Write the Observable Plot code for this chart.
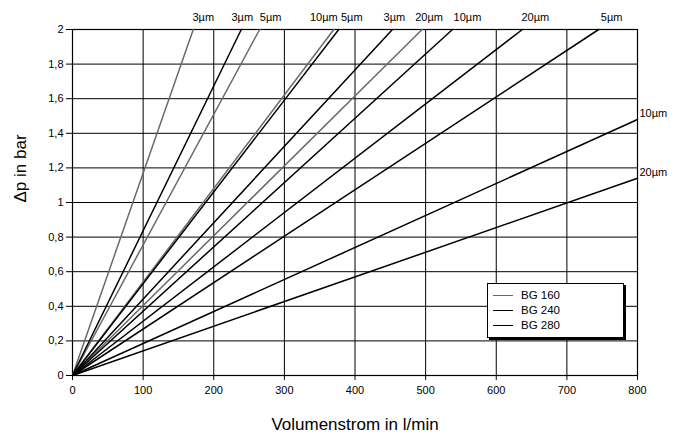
<!DOCTYPE html>
<html>
<head>
<meta charset="utf-8">
<script src="https://cdn.jsdelivr.net/npm/d3@7"></script>
<script src="https://cdn.jsdelivr.net/npm/@observablehq/plot@0.6"></script>
<style>
  html, body { margin: 0; padding: 0; background: #fff; }
  #wrap { position: relative; width: 674px; height: 434px; font-family: "Liberation Sans", Arial, Helvetica, sans-serif; }
  #legend { position: absolute; left: 487px; top: 283px; width: 135px; height: 53px; border: 1px solid #000; background: #fff; box-shadow: 2px 2px 0 #000; font-size: 11.5px; color: #000; }
  #legend .row { position: absolute; left: 5px; height: 14px; display: flex; align-items: center; }
  #legend .sw { width: 20px; height: 0; border-top: 1.6px solid #000; margin-right: 8px; }
</style>
</head>
<body>
<div id="wrap"></div>
<script>
// Filter grades (one line per filter fineness, per filter size)
const filters = ["3µm", "5µm", "10µm", "20µm"];
const groups = ["BG 160", "BG 240", "BG 280"];
// End point of each line (all lines start at 0 l/min, 0 bar)
const bg160Flow = [171, 265, 370, 495];
const bg160Dp   = [2, 2, 2, 2];
const bg240Flow = [239, 377, 538, 637];
const bg240Dp   = [2, 2, 2, 2];
const bg280Flow = [453, 745, 800, 800];
const bg280Dp   = [2, 2, 1.48, 1.14];
const xTicks = [0, 100, 200, 300, 400, 500, 600, 700, 800];
const yTicks = [0, 0.2, 0.4, 0.6, 0.8, 1, 1.2, 1.4, 1.6, 1.8, 2];

const groupColor = {"BG 160": "#6a6a6a", "BG 240": "#000", "BG 280": "#000"};
const ends = [];
[[bg160Flow, bg160Dp], [bg240Flow, bg240Dp], [bg280Flow, bg280Dp]].forEach(([f, p], gi) => {
  filters.forEach((name, i) => ends.push({group: groups[gi], filter: name, flow: f[i], dp: p[i]}));
});
const lineRows = ends.flatMap(e => [
  {key: e.group + "|" + e.filter, group: e.group, flow: 0, dp: 0},
  {key: e.group + "|" + e.filter, group: e.group, flow: e.flow, dp: e.dp}
]);
// label nudges (pixels) so the top labels do not collide
const nudge = {
  "BG 160|3µm": 10, "BG 240|3µm": 1, "BG 160|5µm": 11, "BG 160|10µm": -10,
  "BG 240|5µm": 13, "BG 280|3µm": 2, "BG 160|20µm": 7, "BG 240|10µm": 15,
  "BG 240|20µm": 13, "BG 280|5µm": 13
};
const topLabels = ends.filter(e => e.dp === 2);
const sideLabels = ends.filter(e => e.dp !== 2);
const fmt = d => String(d).replace(".", ",");

const chart = Plot.plot({
  width: 674, height: 434,
  marginLeft: 72, marginRight: 37, marginTop: 29, marginBottom: 59,
  style: {fontFamily: '"Liberation Sans", Arial, Helvetica, sans-serif', fontSize: "11px", color: "#000", background: "#fff"},
  x: {domain: [0, 800]},
  y: {domain: [0, 2]},
  marks: [
    Plot.gridX(xTicks, {stroke: "#000", strokeOpacity: 1, strokeWidth: 1}),
    Plot.gridY(yTicks, {stroke: "#000", strokeOpacity: 1, strokeWidth: 1}),
    Plot.frame({stroke: "#000", strokeWidth: 1.2}),
    Plot.axisX({ticks: xTicks, tickSize: 5, tickPadding: 6, label: null, fontSize: 11, tickFormat: d => String(d)}),
    Plot.axisY({ticks: yTicks, tickSize: 6, tickPadding: 3, label: null, fontSize: 11, tickFormat: fmt}),
    Plot.line(lineRows, {x: "flow", y: "dp", z: "key", stroke: d => groupColor[d.group], strokeWidth: 1.5}),
    ...topLabels.map(e => Plot.text([e], {x: "flow", y: "dp", text: "filter", dy: -12,
      dx: nudge[e.group + "|" + e.filter] || 0, fontSize: 11, textAnchor: "middle"})),
    Plot.text(sideLabels, {x: "flow", y: "dp", text: "filter", dx: 2, dy: -6, textAnchor: "start", fontSize: 11}),
    Plot.text(["Volumenstrom in l/min"], {frameAnchor: "bottom", dy: 54, fontSize: 17}),
    Plot.text(["Δp in bar"], {frameAnchor: "left", dx: -52, rotate: -90, fontSize: 17})
  ]
});
const wrap = document.getElementById("wrap");
wrap.appendChild(chart);

const legend = document.createElement("div");
legend.id = "legend";
groups.forEach((g, i) => {
  const row = document.createElement("div");
  row.className = "row";
  row.style.top = (4 + i * 15) + "px";
  const sw = document.createElement("div");
  sw.className = "sw";
  sw.style.borderTopColor = groupColor[g];
  const lab = document.createElement("span");
  lab.textContent = g;
  row.appendChild(sw); row.appendChild(lab);
  legend.appendChild(row);
});
wrap.appendChild(legend);
</script>
</body>
</html>
